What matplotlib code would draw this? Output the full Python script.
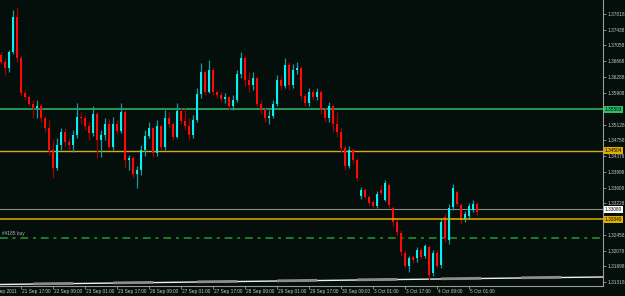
import matplotlib
matplotlib.use("Agg")
import matplotlib.pyplot as plt
import numpy as np

plt.rcParams['font.family'] = ['Liberation Sans Narrow', 'Liberation Sans', 'DejaVu Sans']

# EURUSD candles (2 h per candle)
opens = [1.36824, 1.36654, 1.36509, 1.36897, 1.37746, 1.36751, 1.35903, 1.35806, 1.35636, 1.35539,
         1.35587, 1.35296, 1.35054, 1.34520, 1.34084, 1.34642, 1.34957, 1.34714, 1.34642, 1.34884,
         1.35321, 1.35296, 1.35102, 1.34933, 1.35393, 1.34763, 1.34884, 1.35151, 1.34593, 1.35151,
         1.34981, 1.35442, 1.34278, 1.34326, 1.33938, 1.34035, 1.34520, 1.34860, 1.35054, 1.34448,
         1.35102, 1.34593, 1.35296, 1.35151, 1.34836, 1.35466, 1.35224, 1.35102, 1.34884, 1.35248,
         1.35878, 1.36412, 1.35927, 1.36460, 1.35927, 1.35854, 1.35757, 1.35806, 1.35587, 1.35733,
         1.36363, 1.36751, 1.36218, 1.36097, 1.36266, 1.35636, 1.35490, 1.35296, 1.35345, 1.35636,
         1.36218, 1.36072, 1.36582, 1.36097, 1.36460, 1.36509, 1.35830, 1.35660, 1.35927, 1.35806,
         1.35927, 1.35490, 1.35296, 1.35587, 1.35151, 1.34957, 1.34569, 1.34132, 1.34520, 1.34278,
         1.33405, 1.33550, 1.33381, 1.33259, 1.33162, 1.33550, 1.33308, 1.33672, 1.33114, 1.32774,
         1.32508, 1.32023, 1.31707, 1.31926, 1.31901, 1.32095, 1.31950, 1.32168, 1.31538, 1.32023,
         1.31732, 1.32896, 1.32338, 1.33138, 1.33502, 1.33187, 1.32847, 1.32920, 1.33065, 1.33211]
highs = [1.36897, 1.36751, 1.36945, 1.37915, 1.37988, 1.36824, 1.35975, 1.35854, 1.35733, 1.35733,
         1.35660, 1.35345, 1.35248, 1.34763, 1.34811, 1.35054, 1.35054, 1.34811, 1.35005, 1.35660,
         1.35442, 1.35369, 1.35199, 1.35587, 1.35442, 1.35005, 1.35296, 1.35272, 1.35321, 1.35248,
         1.35660, 1.35490, 1.34399, 1.34375, 1.34132, 1.34642, 1.35005, 1.35199, 1.35078, 1.35248,
         1.35151, 1.35490, 1.35442, 1.35199, 1.35660, 1.35539, 1.35539, 1.35296, 1.35369, 1.36024,
         1.36630, 1.36460, 1.36703, 1.36533, 1.35975, 1.35927, 1.35903, 1.35830, 1.35854, 1.36460,
         1.36897, 1.36800, 1.36412, 1.36412, 1.36315, 1.35733, 1.35539, 1.35490, 1.35733, 1.36339,
         1.36315, 1.36751, 1.36654, 1.36606, 1.36654, 1.36557, 1.35903, 1.36024, 1.36000, 1.36024,
         1.35975, 1.35539, 1.35684, 1.35636, 1.35442, 1.35054, 1.34642, 1.34617, 1.34569, 1.34326,
         1.33623, 1.33599, 1.33429, 1.33308, 1.33526, 1.33672, 1.33793, 1.33720, 1.33162, 1.32823,
         1.32580, 1.32095, 1.31950, 1.31974, 1.32168, 1.32144, 1.32241, 1.32217, 1.32095, 1.32095,
         1.32871, 1.32993, 1.33211, 1.33696, 1.33550, 1.33235, 1.33041, 1.33235, 1.33308, 1.33259]
lows = [1.36606, 1.36339, 1.36412, 1.36848, 1.36654, 1.35830, 1.35733, 1.35587, 1.35296, 1.35296,
        1.35199, 1.34957, 1.34399, 1.33841, 1.34035, 1.34520, 1.34617, 1.34520, 1.34472, 1.34811,
        1.35151, 1.35005, 1.34763, 1.34860, 1.34326, 1.34351, 1.34763, 1.34569, 1.34520, 1.34908,
        1.34933, 1.34084, 1.34035, 1.33841, 1.33599, 1.33914, 1.34375, 1.34811, 1.34351, 1.34375,
        1.34520, 1.34520, 1.35054, 1.34763, 1.34811, 1.35151, 1.35005, 1.34763, 1.34811, 1.35199,
        1.35781, 1.35854, 1.35903, 1.35854, 1.35781, 1.35684, 1.35660, 1.35490, 1.35490, 1.35684,
        1.36266, 1.36072, 1.35927, 1.35975, 1.35563, 1.35393, 1.35199, 1.35151, 1.35296, 1.35587,
        1.35975, 1.36024, 1.35975, 1.36024, 1.36363, 1.35733, 1.35587, 1.35587, 1.35733, 1.35733,
        1.35393, 1.35199, 1.35199, 1.34957, 1.34836, 1.34472, 1.34035, 1.34084, 1.34181, 1.33769,
        1.33332, 1.33332, 1.33187, 1.33114, 1.33114, 1.33429, 1.33284, 1.33114, 1.32677, 1.32435,
        1.31950, 1.31659, 1.31562, 1.31780, 1.31804, 1.31877, 1.31901, 1.31368, 1.31465, 1.31659,
        1.31659, 1.32289, 1.32241, 1.33065, 1.33162, 1.32726, 1.32774, 1.32847, 1.33017, 1.32920]
closes = [1.36654, 1.36509, 1.36897, 1.37746, 1.36751, 1.35903, 1.35806, 1.35636, 1.35539, 1.35587,
          1.35296, 1.35054, 1.34520, 1.34084, 1.34642, 1.34957, 1.34714, 1.34642, 1.34884, 1.35321,
          1.35296, 1.35102, 1.34933, 1.35393, 1.34763, 1.34884, 1.35151, 1.34593, 1.35151, 1.34981,
          1.35442, 1.34278, 1.34326, 1.33938, 1.34035, 1.34520, 1.34860, 1.35054, 1.34448, 1.35102,
          1.34593, 1.35296, 1.35151, 1.34836, 1.35466, 1.35224, 1.35102, 1.34884, 1.35248, 1.35878,
          1.36412, 1.35927, 1.36460, 1.35927, 1.35854, 1.35757, 1.35806, 1.35587, 1.35733, 1.36363,
          1.36751, 1.36218, 1.36097, 1.36266, 1.35636, 1.35490, 1.35296, 1.35345, 1.35636, 1.36218,
          1.36072, 1.36582, 1.36097, 1.36460, 1.36509, 1.35830, 1.35660, 1.35927, 1.35806, 1.35927,
          1.35490, 1.35296, 1.35587, 1.35151, 1.34957, 1.34569, 1.34132, 1.34520, 1.34278, 1.33841,
          1.33550, 1.33381, 1.33235, 1.33162, 1.33453, 1.33478, 1.33720, 1.33187, 1.32774, 1.32532,
          1.32047, 1.31707, 1.31901, 1.31853, 1.32095, 1.31926, 1.32192, 1.31489, 1.32023, 1.31707,
          1.32774, 1.32386, 1.33114, 1.33599, 1.33211, 1.32823, 1.32968, 1.33162, 1.33211, 1.33017]

# horizontal levels
green_level = 1.35503
upper_gold_level = 1.34504
bid_level = 1.33080
lower_gold_level = 1.32840
order_level = 1.32386
order_text = "#4185 buy"

# price scale labels on the right
price_ticks = [1.37818, 1.37438, 1.37058, 1.36668, 1.36288, 1.35908, 1.35128, 1.34758,
               1.34378, 1.33998, 1.33608, 1.33228, 1.32458, 1.32078, 1.31698, 1.31318]

# time labels (one every 8 candles)
time_labels = ["20 Sep 2011", "21 Sep 17:00", "22 Sep 09:00", "23 Sep 01:00", "23 Sep 17:00",
               "26 Sep 09:00", "27 Sep 01:00", "27 Sep 17:00", "28 Sep 09:00", "29 Sep 01:00",
               "29 Sep 17:00", "30 Sep 09:00", "3 Oct 01:00", "3 Oct 17:00", "4 Oct 09:00",
               "5 Oct 01:00"]
time_label_bars = [-3, 5, 13, 21, 29, 37, 45, 53, 61, 69, 77, 85, 93, 101, 109, 117]

# day-separator line along the bottom
base_bars = [-1, 20, 40, 60, 80, 100, 120, 140, 151]
base_values = [1.31258, 1.31283, 1.31307, 1.31331, 1.31356, 1.31380, 1.31404, 1.31429, 1.31441]
grey_spans = [(8, 18), (28, 38), (49, 59), (69, 79), (89, 99), (110, 120), (130, 140)]

bg = '#040e0a'
fs = 3.4
fig = plt.figure(figsize=(6.25, 2.96), dpi=100, facecolor=bg)
ax = fig.add_axes([0, 10 / 296, 603 / 625, 286 / 296], facecolor=bg)

o = np.array(opens)
c = np.array(closes)
h = np.array(highs)
l = np.array(lows)
x = np.arange(len(c))
up = c >= o

ax.vlines(x, l, h, colors=np.where(up, '#1a9a9a', '#a00000'), lw=0.9, zorder=3)
body_low = np.minimum(o, c)
body_h = np.maximum(np.abs(c - o), 0.00006)
ax.bar(x, body_h, bottom=body_low, width=0.55,
       color=np.where(up, '#00f2f2', '#ff0a0a'), linewidth=0, zorder=4)

# horizontal lines
ax.axhline(green_level, color='#2ebd6b', lw=1.1, zorder=2)
ax.axhline(upper_gold_level, color='#d9a81c', lw=1.0, zorder=2)
ax.axhline(bid_level, color='#8a8a8a', lw=0.8, zorder=2)
ax.axhline(lower_gold_level, color='#e0b000', lw=1.1, zorder=5)
ax.axhline(order_level, color='#1f7a2c', lw=1.4, ls=(0, (4, 2.5, 1.5, 2.5)), zorder=2)
ax.text(0.3, order_level + 0.0004, order_text, color='#b8b8b8', fontsize=fs,
        va='bottom', ha='left')

# bottom separator line
bx = np.linspace(-1, 151, 400)
by = np.interp(bx, base_bars, base_values)
ax.plot(bx, by, color='#f0f0f0', lw=1.0, zorder=2)
for s0, s1 in grey_spans:
    sx = np.linspace(s0, s1, 20)
    ax.plot(sx, np.interp(sx, base_bars, base_values) + 0.00005, color='#8c8c8c', lw=2.0,
            solid_capstyle='butt', zorder=2)

ax.set_xlim(-0.3, 150.45)
ax.set_ylim(1.31222, 1.38158)

# axes styling
for side in ['top', 'left']:
    ax.spines[side].set_visible(False)
for side in ['right', 'bottom']:
    ax.spines[side].set_color('#9a9a9a')
    ax.spines[side].set_linewidth(0.8)
ax.yaxis.tick_right()
ax.set_yticks(price_ticks)
ax.set_yticklabels([f"{v:.5f}" for v in price_ticks])
ax.tick_params(axis='y', colors='#9a9a9a', labelcolor='#c8c8c8', length=2.5, width=0.6,
               labelsize=fs, pad=1)
ax.set_xticks([b for b in time_label_bars if b >= 0])
ax.set_xticklabels([])
ax.tick_params(axis='x', colors='#9a9a9a', length=2.5, width=0.6)
for b, lab in zip(time_label_bars, time_labels):
    ax.text(b + 0.3, -0.012, lab, transform=ax.get_xaxis_transform(), color='#c8c8c8',
            fontsize=fs, ha='left', va='top', clip_on=False)

# price boxes on the right axis
yt = ax.get_yaxis_transform()
for val, fc, tc in [(green_level, '#2ebd6b', 'black'), (upper_gold_level, '#e0b000', 'black'),
                    (bid_level, 'white', 'black'), (lower_gold_level, '#e0b000', 'black')]:
    ax.text(1.003, val, f"{val:.5f}", transform=yt, color=tc, fontsize=fs, ha='left',
            va='center', clip_on=False, zorder=10,
            bbox=dict(boxstyle='square,pad=0.2', fc=fc, ec='none'))

fig.savefig('out.png', dpi=100, facecolor=bg)
